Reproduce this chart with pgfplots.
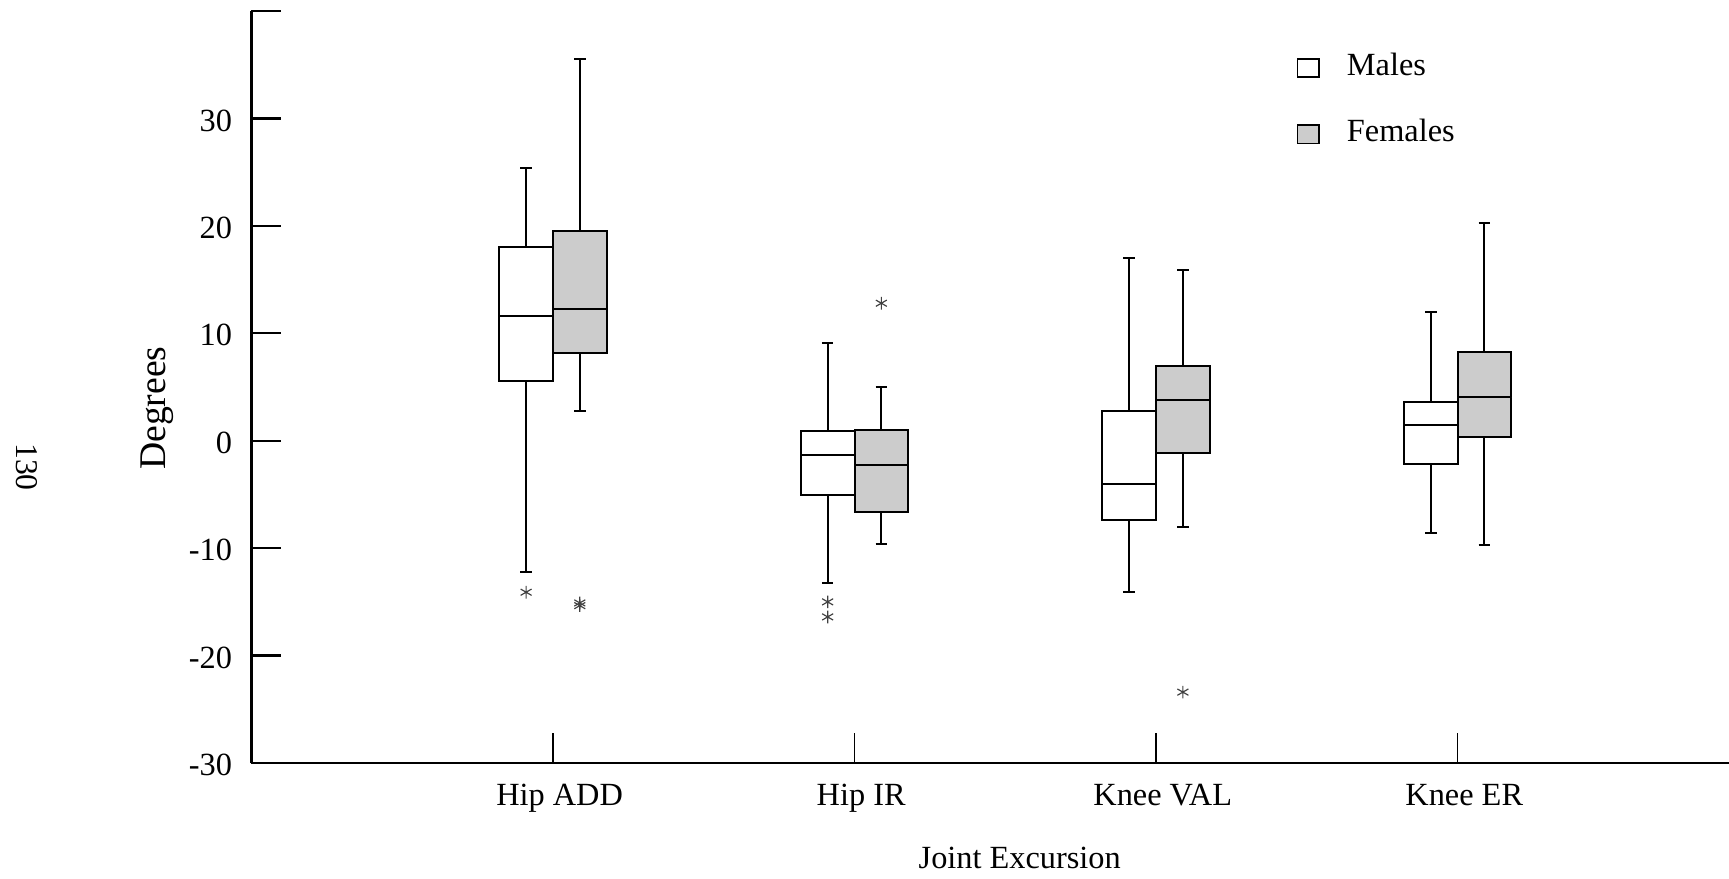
\documentclass[border=0pt]{standalone}
\usepackage{fontspec}
\setmainfont{Liberation Serif}
\usepackage{pgfplots}
\pgfplotsset{compat=1.18}
\usepgfplotslibrary{statistics}
\definecolor{fgray}{RGB}{204,204,204}
\newcommand{\tf}{\fontsize{9.7}{11.6}\selectfont}
\pgfplotsset{
  mbox/.style={forget plot, draw=black, fill=white, line width=0.6pt, solid,
    mark=asterisk, mark options={draw=black!75, line width=0.35pt, mark size=1.9pt}},
  fbox/.style={forget plot, draw=black, fill=fgray, line width=0.6pt, solid,
    mark=asterisk, mark options={draw=black!75, line width=0.35pt, mark size=1.9pt}},
  boxplot/draw direction=y,
}
\begin{document}
\begin{tikzpicture}
\useasboundingbox (-75.42pt,-34.5pt) rectangle (443.28pt,228.9pt);
\begin{axis}[
  at={(0,0)}, anchor=south west,
  scale only axis, width=443.28pt, height=225.6pt,
  xmin=0, xmax=4.9, ymin=-30, ymax=40,
  axis lines=left, axis line style={-, line width=0.7pt},
  tick align=inside, major tick length=9pt,
  xtick={1,2,3,4}, xticklabels={Hip ADD, Hip IR, Knee VAL, Knee ER},
  ytick={-30,-20,...,40}, yticklabels={-30,-20,-10,0,10,20,30,{}},
  x tick style={line width=0.45pt, black}, y tick style={line width=0.7pt, black},
  xticklabel style={font=\tf, anchor=base, inner sep=0pt, yshift=-12.6pt, xshift=2pt},
  yticklabel style={font=\tf, anchor=east, inner sep=0pt, xshift=-5.6pt, yshift=-0.6pt},
  xlabel={Joint Excursion},
  xlabel style={font=\tf, at={(axis description cs:0.520,-0.1263)}, anchor=center, inner sep=0pt},
  ylabel={Degrees},
  ylabel style={font=\fontsize{11.3}{13}\selectfont, at={(axis description cs:-0.0636,0.472)}, anchor=center, inner sep=0pt},
  legend style={at={(axis cs:3.464,36.19)}, anchor=north west, draw=none, fill=none,
    inner sep=0pt, row sep=11.7pt, font=\tf, nodes={inner sep=0pt},
    /tikz/every odd column/.append style={column sep=8.1pt}},
  legend cell align=left,
  legend image code/.code={\draw[#1] (0pt,-3.2pt) rectangle (6.5pt,2.3pt);},
  clip=false,
]
\addlegendimage{draw=black, fill=white, line width=0.5pt}
\addlegendentry{Males}
\addlegendimage{draw=black, fill=fgray, line width=0.5pt}
\addlegendentry{Females}

% Hip ADD
\addplot[mbox, boxplot prepared={draw position=0.911, lower whisker=-12.25, lower quartile=5.6, median=11.6, upper quartile=18.0, upper whisker=25.35, box extend=0.178, whisker extend=0.038}] coordinates {(0,-14.1)};
\addplot[fbox, boxplot prepared={draw position=1.089, lower whisker=2.8, lower quartile=8.14, median=12.3, upper quartile=19.55, upper whisker=35.5, box extend=0.178, whisker extend=0.038}] coordinates {(0,-15.1) (0,-15.35)};
% Hip IR
\addplot[mbox, boxplot prepared={draw position=1.911, lower whisker=-13.2, lower quartile=-5.05, median=-1.3, upper quartile=0.87, upper whisker=9.1, box extend=0.178, whisker extend=0.038}] coordinates {(0,-15.0) (0,-16.4)};
\addplot[fbox, boxplot prepared={draw position=2.089, lower whisker=-9.57, lower quartile=-6.66, median=-2.3, upper quartile=0.96, upper whisker=5.0, box extend=0.178, whisker extend=0.038}] coordinates {(0,12.8)};
% Knee VAL
\addplot[mbox, boxplot prepared={draw position=2.911, lower whisker=-14.06, lower quartile=-7.34, median=-4.0, upper quartile=2.76, upper whisker=17.0, box extend=0.178, whisker extend=0.038}] coordinates {};
\addplot[fbox, boxplot prepared={draw position=3.089, lower whisker=-8.0, lower quartile=-1.1, median=3.78, upper quartile=6.94, upper whisker=15.9, box extend=0.178, whisker extend=0.038}] coordinates {(0,-23.4)};
% Knee ER
\addplot[mbox, boxplot prepared={draw position=3.911, lower whisker=-8.57, lower quartile=-2.17, median=1.48, upper quartile=3.56, upper whisker=11.94, box extend=0.178, whisker extend=0.038}] coordinates {};
\addplot[fbox, boxplot prepared={draw position=4.089, lower whisker=-9.7, lower quartile=0.38, median=4.03, upper quartile=8.3, upper whisker=20.26, box extend=0.178, whisker extend=0.038}] coordinates {};

\node[rotate=-90, font=\fontsize{9.5}{11}\selectfont] at (axis description cs:-0.1519,0.3936) {130};
\end{axis}
\end{tikzpicture}
\end{document}
